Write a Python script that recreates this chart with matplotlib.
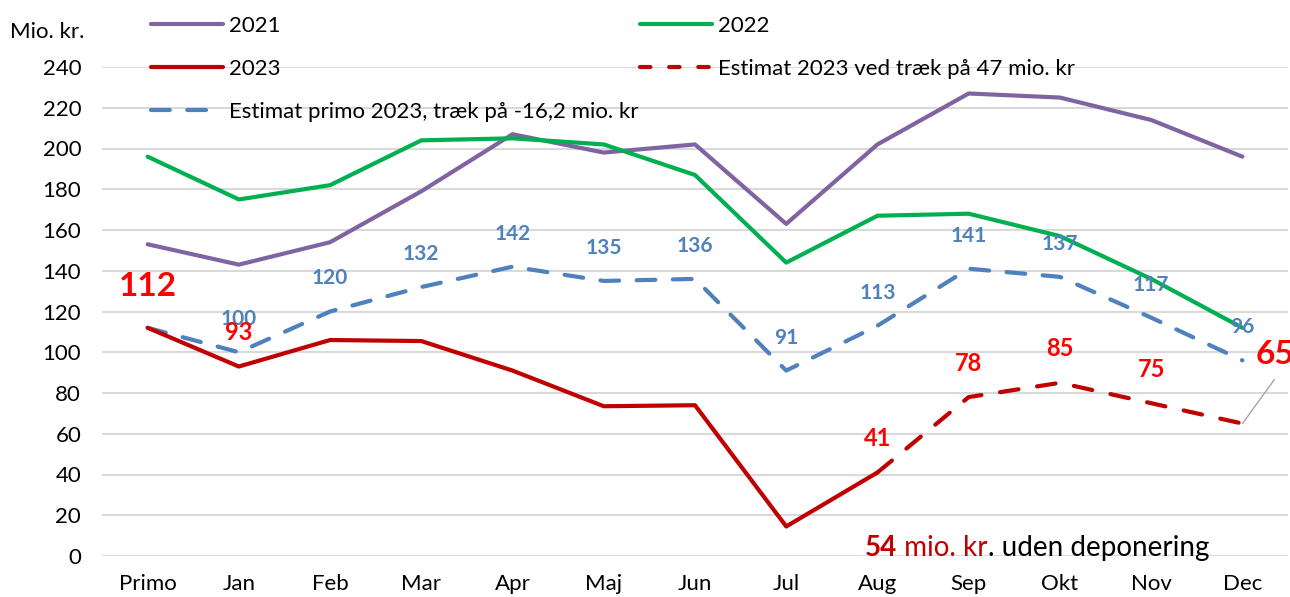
import matplotlib
matplotlib.use("Agg")
import matplotlib.pyplot as plt
from matplotlib.lines import Line2D

plt.rcParams['font.family'] = ['Lato', 'DejaVu Sans']

months = ["Primo", "Jan", "Feb", "Mar", "Apr", "Maj", "Jun", "Jul", "Aug", "Sep", "Okt", "Nov", "Dec"]
y2021 = [153, 143, 154, 179, 207, 198, 202, 163, 202, 227, 225, 214, 196]
y2022 = [196, 175, 182, 204, 205, 202, 187, 144, 167, 168, 157, 136, 112]
y2023 = [112, 93, 106, 105.5, 91, 73.5, 74, 14.5, 41]
est2023_months = ["Aug", "Sep", "Okt", "Nov", "Dec"]
est2023 = [41, 78, 85, 75, 65]
est_primo = [112, 100, 120, 132, 142, 135, 136, 91, 113, 141, 137, 117, 96]
yticks = [0, 20, 40, 60, 80, 100, 120, 140, 160, 180, 200, 220, 240]

c2021 = "#8064A2"
c2022 = "#00B050"
c2023 = "#C00000"
cblue = "#4F81BD"
cred_lbl = "#FF0000"

W, H = 1290, 597
fig = plt.figure(figsize=(W / 100, H / 100), dpi=100)
ax = fig.add_axes([102 / W, 1 - 556 / H, (1288 - 102) / W, (556 - 67) / H])

x = list(range(len(months)))
idx = {m: i for i, m in enumerate(months)}
x23 = x[:len(y2023)]
xest = [idx[m] for m in est2023_months]

lw = 3.0
ax.plot(x, y2021, color=c2021, lw=lw, solid_capstyle='round', zorder=3)
ax.plot(x, y2022, color=c2022, lw=lw, solid_capstyle='round', zorder=3)
ax.plot(x, est_primo, color=cblue, lw=lw, dashes=(4.5, 4.2), dash_capstyle='round', zorder=3)
ax.plot(x23, y2023, color=c2023, lw=lw, solid_capstyle='round', zorder=4)
ax.plot(xest, est2023, color=c2023, lw=lw, dashes=(4.5, 4.5), dash_capstyle='round', zorder=4)

ax.set_xlim(-0.5, 12.5)
ax.set_ylim(0, 240)
ax.set_yticks(yticks)
ax.set_xticks(x)
ax.set_xticklabels(months)
ax.grid(axis='y', color='#D9D9D9', lw=1.5, zorder=0)
ax.set_axisbelow(True)
for s in ax.spines.values():
    s.set_visible(False)
ax.tick_params(axis='both', length=0, labelsize=16, colors='#000000')
ax.tick_params(axis='x', pad=13)
ax.tick_params(axis='y', pad=15)

# blue labels
for i in range(1, len(months)):
    ax.annotate(f"{est_primo[i]:g}", (x[i], est_primo[i]), xytext=(0, 33), textcoords='offset pixels',
                ha='center', va='center', color=cblue, fontsize=15, fontweight='bold', zorder=5)

# red labels
red_lbls = [("Jan", 93), ("Aug", 41), ("Sep", 78), ("Okt", 85), ("Nov", 75)]
for m, v in red_lbls:
    ax.annotate(f"{v}", (idx[m], v), xytext=(0, 34), textcoords='offset pixels',
                ha='center', va='center', color=cred_lbl, fontsize=17, fontweight='bold', zorder=6)

ax.annotate("112", (0, 112), xytext=(0, 41), textcoords='offset pixels',
            ha='center', va='center', color=cred_lbl, fontsize=24, fontweight='bold', zorder=6)
ax.annotate("", xy=(12, 65), xytext=(32, 44), textcoords='offset pixels',
            arrowprops=dict(arrowstyle='-', color='#A6A6A6', lw=1.0, shrinkA=0, shrinkB=0), zorder=2)
ax.annotate("65", (12, 65), xytext=(33, 69), textcoords='offset pixels', annotation_clip=False,
            ha='center', va='center', color=cred_lbl, fontsize=24, fontweight='bold', zorder=6)

# bottom annotation
t1 = fig.text(865 / W, 1 - 556 / H, "54", color=c2023, fontsize=20, fontweight='bold', va='baseline')
t2 = ax.annotate(" mio. kr", xy=(1, 0), xycoords=t1, va='bottom', color=c2023, fontsize=20)
t3 = ax.annotate(". uden deponering", xy=(1, 0), xycoords=t2, va='bottom', color='black', fontsize=20)

fig.text(10 / W, 1 - 32 / H, "Mio. kr.", fontsize=16, va='center', ha='left')

# legends
h2021 = Line2D([], [], color=c2021, lw=lw, solid_capstyle='round')
h2022 = Line2D([], [], color=c2022, lw=lw, solid_capstyle='round')
h2023 = Line2D([], [], color=c2023, lw=lw, solid_capstyle='round')
hblue = Line2D([], [], color=cblue, lw=lw, dashes=(4.5, 4.2), dash_capstyle='round')
hred = Line2D([], [], color=c2023, lw=lw, dashes=(2.5, 4.5), dash_capstyle='round')

common = dict(frameon=False, fontsize=16, handlelength=3.25, handletextpad=0.25,
              labelspacing=1.03, borderpad=0, borderaxespad=0, loc='upper left')
leg1 = fig.legend([h2021, h2023, hblue], ["2021", "2023", "Estimat primo 2023, træk på -16,2 mio. kr"],
                  bbox_to_anchor=(151 / W, 1 - 16 / H), **common)
leg2 = fig.legend([h2022, hred], ["2022", "Estimat 2023 ved træk på 47 mio. kr"],
                  bbox_to_anchor=(640 / W, 1 - 16 / H), **common)

fig.savefig("out.png", dpi=100)
